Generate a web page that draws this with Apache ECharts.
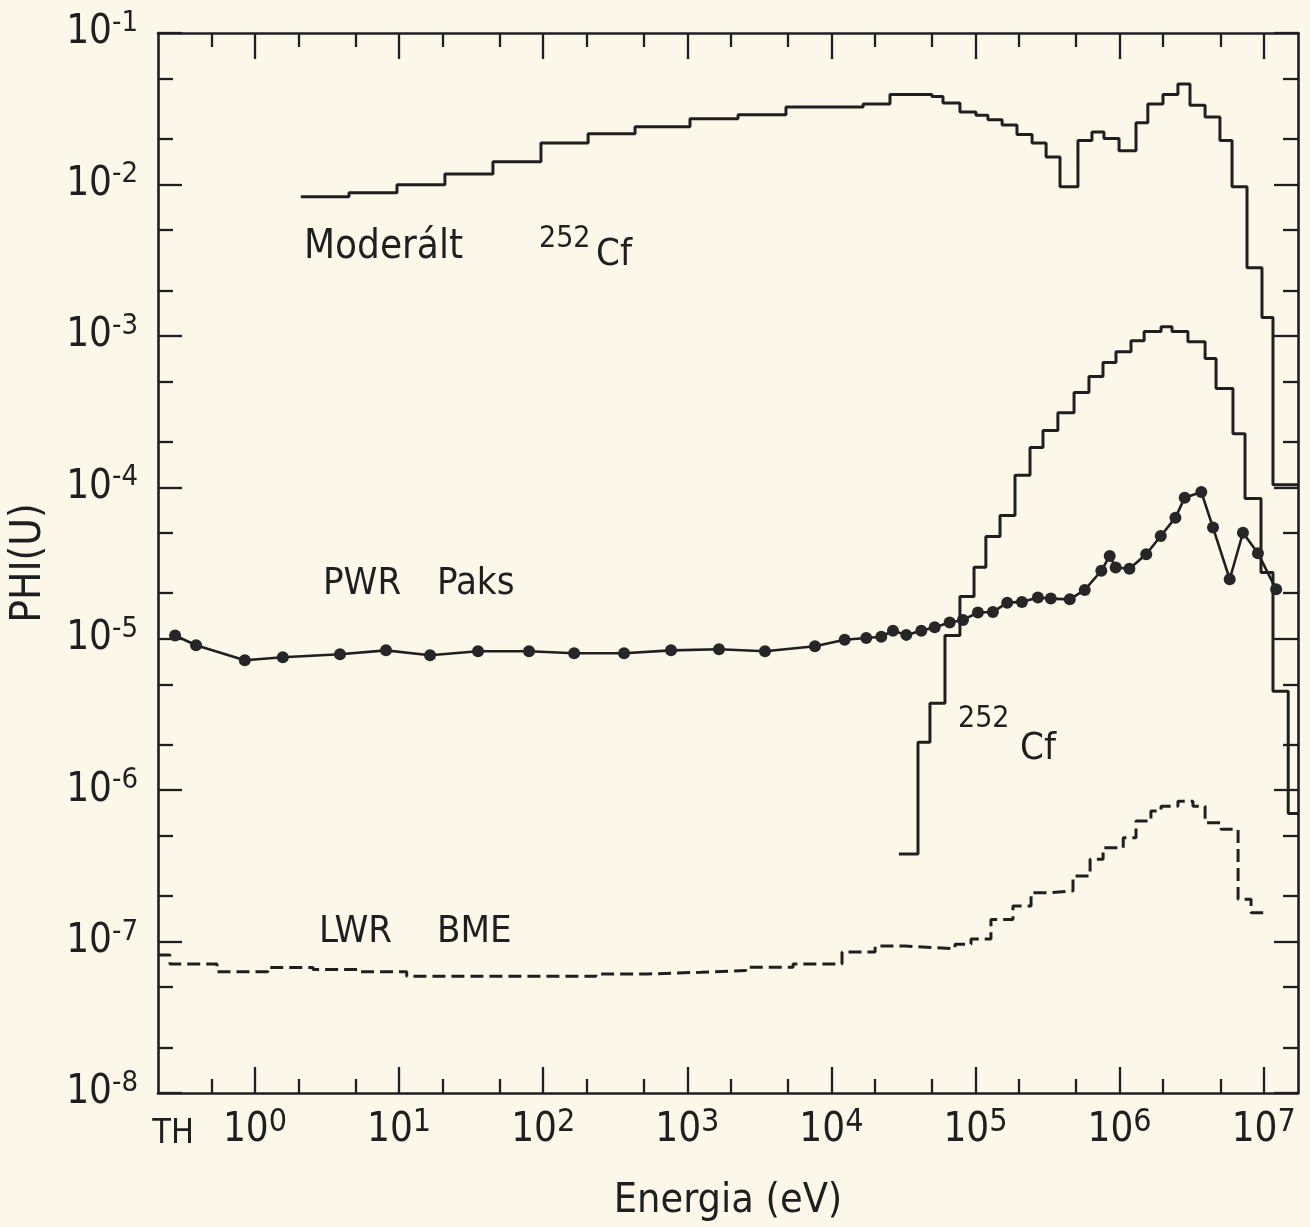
<!DOCTYPE html>
<html>
<head>
<meta charset="utf-8">
<script src="https://cdn.jsdelivr.net/npm/echarts@6/dist/echarts.min.js"></script>
<style>
  html, body { margin: 0; padding: 0; background: #fbf8ea; }
  #chart { width: 1310px; height: 1227px; }
</style>
</head>
<body>
<div id="chart"></div>
<script>
// ---------- data ----------
// Moderált 252Cf: group edges (eV) and flux per group
const modEdges = [2.08, 4.49, 9.67, 20.8, 44.8, 96.5, 205, 434, 1044, 2250, 4840, 16600, 25500, 49900, 59500, 78000,
  1.007e5, 1.22e5, 1.53e5, 1.94e5, 2.47e5, 3.09e5, 3.86e5, 5.14e5, 6.43e5, 7.79e5, 9.91e5, 1.30e6, 1.57e6, 2.00e6,
  2.54e6, 3.08e6, 3.92e6, 4.97e6, 6.03e6, 7.66e6, 9.73e6, 1.16e7, 1.73e7];
const modValues = [8.28e-3, 8.80e-3, 9.94e-3, 1.17e-2, 1.41e-2, 1.88e-2, 2.16e-2, 2.40e-2, 2.71e-2, 2.88e-2, 3.25e-2,
  3.40e-2, 3.93e-2, 3.81e-2, 3.45e-2, 3.01e-2, 2.86e-2, 2.67e-2, 2.47e-2, 2.14e-2, 1.88e-2, 1.52e-2, 9.64e-3, 1.95e-2,
  2.22e-2, 2.01e-2, 1.67e-2, 2.55e-2, 3.40e-2, 3.93e-2, 4.61e-2, 3.33e-2, 2.79e-2, 1.95e-2, 9.64e-3, 2.82e-3, 1.32e-3, 1.04e-4];

// 252Cf (bare)
const cfEdges = [29400, 39900, 48300, 61400, 78000, 97700, 1.18e5, 1.48e5, 1.88e5, 2.39e5, 2.94e5, 3.73e5, 4.83e5,
  6.13e5, 7.67e5, 9.44e5, 1.20e6, 1.48e6, 1.94e6, 2.31e6, 2.98e6, 3.92e6, 4.67e6, 6.12e6, 7.42e6, 9.58e6, 1.16e7, 1.48e7, 1.73e7];
const cfValues = [3.78e-7, 2.07e-6, 3.75e-6, 1.05e-5, 1.90e-5, 2.96e-5, 4.73e-5, 6.51e-5, 1.20e-4, 1.83e-4, 2.37e-4,
  3.11e-4, 4.22e-4, 5.38e-4, 6.66e-4, 7.86e-4, 9.29e-4, 1.07e-3, 1.15e-3, 1.07e-3, 9.16e-4, 7.08e-4, 4.49e-4, 2.26e-4,
  8.44e-5, 2.74e-5, 4.50e-6, 7.0e-7];

// LWR BME (dashed histogram)
const lwrEdges = [0.213, 0.257, 0.545, 1.23, 2.53, 5.35, 11.3, 232, 533, 1245, 2550, 5420, 11850, 20100, 32500, 52400,
  72100, 93100, 1.28e5, 1.82e5, 2.43e5, 3.29e5, 4.75e5, 6.24e5, 7.68e5, 1.06e6, 1.30e6, 1.65e6, 1.94e6, 2.54e6, 3.23e6,
  3.92e6, 5.06e6, 6.64e6, 8.17e6, 1.07e7];
const lwrValues = [8.16e-8, 7.12e-8, 6.33e-8, 6.75e-8, 6.53e-8, 6.33e-8, 5.90e-8, 6.11e-8, 6.27e-8, 6.43e-8, 6.76e-8,
  7.12e-8, 8.53e-8, 9.35e-8, 9.11e-8, 8.98e-8, 9.60e-8, 1.04e-7, 1.40e-7, 1.72e-7, 2.10e-7, 2.16e-7, 2.71e-7, 3.49e-7,
  4.16e-7, 4.84e-7, 6.25e-7, 7.27e-7, 7.84e-7, 8.45e-7, 7.84e-7, 6.08e-7, 5.51e-7, 1.90e-7, 1.55e-7];

// PWR Paks (points joined by line)
const pwrEnergy = [0.279, 0.39, 0.85, 1.56, 3.89, 8.11, 16.4, 35.3, 79.7, 164, 364, 771, 1660, 3460, 7690, 12360,
  17460, 22190, 26740, 33100, 42060, 52100, 66200, 81900, 1.04e5, 1.32e5, 1.66e5, 2.10e5, 2.71e5, 3.33e5, 4.51e5,
  5.73e5, 7.47e5, 8.54e5, 9.39e5, 1.17e6, 1.53e6, 1.93e6, 2.44e6, 2.83e6, 3.69e6, 4.45e6, 5.81e6, 7.18e6, 9.12e6, 1.22e7];
const pwrPhi = [1.05e-5, 9.06e-6, 7.21e-6, 7.54e-6, 7.89e-6, 8.38e-6, 7.77e-6, 8.26e-6, 8.26e-6, 8.02e-6, 8.02e-6,
  8.38e-6, 8.51e-6, 8.26e-6, 8.92e-6, 9.84e-6, 1.01e-5, 1.03e-5, 1.13e-5, 1.06e-5, 1.13e-5, 1.19e-5, 1.28e-5, 1.33e-5,
  1.49e-5, 1.50e-5, 1.73e-5, 1.75e-5, 1.87e-5, 1.84e-5, 1.82e-5, 2.10e-5, 2.81e-5, 3.52e-5, 2.95e-5, 2.90e-5, 3.61e-5,
  4.77e-5, 6.30e-5, 8.54e-5, 9.31e-5, 5.42e-5, 2.47e-5, 5.01e-5, 3.67e-5, 2.12e-5];

// axis ticks / labels
const xMin = 0.2123, xMax = 1.73e7;
const xMajorTicks = [1, 10, 100, 1e3, 1e4, 1e5, 1e6, 1e7];
const xMinorTicks = [0.5, 2, 5, 20, 50, 200, 500, 2e3, 5e3, 2e4, 5e4, 2e5, 5e5, 2e6, 5e6];
const xLabelValues = [0.27, 1, 10, 100, 1e3, 1e4, 1e5, 1e6, 1e7];
const yMajorTicks = [1e-8, 1e-7, 1e-6, 1e-5, 1e-4, 1e-3, 1e-2, 1e-1];
const yMinorTicks = [2e-8, 5e-8, 2e-7, 5e-7, 2e-6, 5e-6, 2e-5, 5e-5, 2e-4, 5e-4, 2e-3, 5e-3, 2e-2, 5e-2];

// ---------- chart ----------
const INK = '#1f1f1f';
const FONT = "'DejaVu Sans Condensed','Liberation Sans Narrow','DejaVu Sans',sans-serif";

function histData(edges, values) {
  return edges.map((e, i) => [e, values[Math.min(i, values.length - 1)]]);
}
function expOf(v) { return Math.round(Math.log10(v)); }

const xLabelRich = {
  b: { fontSize: 40, fontFamily: FONT, color: INK, lineHeight: 48 },
  s: { fontSize: 32, fontFamily: FONT, color: INK, lineHeight: 32, verticalAlign: 'top' },
  t: { fontSize: 34, fontFamily: FONT, color: INK, lineHeight: 48, padding: [6, 0, 0, 0] }
};
const yLabelRich = {
  b: { fontSize: 40, fontFamily: FONT, color: INK, lineHeight: 48 },
  s: { fontSize: 29, fontFamily: FONT, color: INK, lineHeight: 26, verticalAlign: 'top' }
};

function xAxisDef(position, ticks, len, showLine, showLabel) {
  return {
    type: 'log', logBase: 10, min: xMin, max: xMax, position: position, gridIndex: 0,
    axisLine: { show: showLine, lineStyle: { color: INK, width: 2.6 } },
    axisTick: { show: true, inside: true, length: len, customValues: ticks, lineStyle: { color: INK, width: 2.3 } },
    axisLabel: showLabel ? {
      show: true, margin: 14, customValues: xLabelValues, rich: xLabelRich,
      formatter: v => (v < 0.5 ? '{t|TH}' : '{b|10}{s|' + expOf(v) + '}')
    } : { show: false },
    splitLine: { show: false }, minorTick: { show: false }
  };
}
function yAxisDef(position, ticks, len, showLine, showLabel) {
  return {
    type: 'log', logBase: 10, min: 1e-8, max: 1e-1, position: position, gridIndex: 0,
    axisLine: { show: showLine, lineStyle: { color: INK, width: 2.6 } },
    axisTick: { show: true, inside: true, length: len, customValues: ticks, lineStyle: { color: INK, width: 2.3 } },
    axisLabel: showLabel ? {
      show: true, margin: 20, customValues: yMajorTicks, rich: yLabelRich,
      formatter: v => '{b|10}{s|' + expOf(v) + '}'
    } : { show: false },
    splitLine: { show: false }, minorTick: { show: false }
  };
}

const xAxes = [
  xAxisDef('bottom', xMajorTicks, 26, true, true),
  xAxisDef('bottom', xMinorTicks, 14, false, false),
  xAxisDef('top', xMajorTicks, 26, true, false),
  xAxisDef('top', xMinorTicks, 14, false, false)
];
xAxes[0].name = 'Energia (eV)';
xAxes[0].nameLocation = 'middle';
xAxes[0].nameGap = 88;
xAxes[0].nameTextStyle = { fontSize: 41, fontFamily: FONT, color: INK };

const yAxes = [
  yAxisDef('left', yMajorTicks, 24, true, true),
  yAxisDef('left', yMinorTicks, 15, false, false),
  yAxisDef('right', yMajorTicks, 24, true, false),
  yAxisDef('right', yMinorTicks, 15, false, false)
];
yAxes[0].name = 'PHI(U)';
yAxes[0].nameLocation = 'middle';
yAxes[0].nameRotate = 90;
yAxes[0].nameGap = 108;
yAxes[0].nameTextStyle = { fontSize: 42, fontFamily: FONT, color: INK };

const LBL = '38px ' + FONT;
const SUP = '30px ' + FONT;

const option = {
  backgroundColor: '#fbf8ea',
  animation: false,
  grid: { left: 158, right: 12, top: 33, bottom: 133, containLabel: false },
  xAxis: xAxes,
  yAxis: yAxes,
  series: [
    {
      name: 'Moderált 252Cf', type: 'line', step: 'end', showSymbol: false, xAxisIndex: 0, yAxisIndex: 0,
      data: histData(modEdges, modValues), lineStyle: { color: INK, width: 3 }, itemStyle: { color: INK }
    },
    {
      name: '252Cf', type: 'line', step: 'end', showSymbol: false, xAxisIndex: 0, yAxisIndex: 0,
      data: histData(cfEdges, cfValues), lineStyle: { color: INK, width: 3 }, itemStyle: { color: INK }
    },
    {
      name: 'LWR BME', type: 'line', step: 'end', showSymbol: false, xAxisIndex: 0, yAxisIndex: 0,
      data: histData(lwrEdges, lwrValues), lineStyle: { color: INK, width: 3, type: [13, 6] }, itemStyle: { color: INK }
    },
    {
      name: 'PWR Paks', type: 'line', xAxisIndex: 0, yAxisIndex: 0, symbol: 'circle', symbolSize: 12,
      data: pwrEnergy.map((e, i) => [e, pwrPhi[i]]),
      lineStyle: { color: INK, width: 2.6 }, itemStyle: { color: '#262626' }
    }
  ],
  graphic: [
    { type: 'text', left: 304, top: 228, style: { text: 'Moderált', font: '40px ' + FONT, fill: INK } },
    { type: 'text', left: 539, top: 224, style: { text: '252', font: SUP, fill: INK } },
    { type: 'text', left: 596, top: 236, style: { text: 'Cf', font: LBL, fill: INK } },
    { type: 'text', left: 323, top: 565, style: { text: 'PWR', font: LBL, fill: INK } },
    { type: 'text', left: 437, top: 565, style: { text: 'Paks', font: LBL, fill: INK } },
    { type: 'text', left: 319, top: 913, style: { text: 'LWR', font: LBL, fill: INK } },
    { type: 'text', left: 437, top: 913, style: { text: 'BME', font: LBL, fill: INK } },
    { type: 'text', left: 958, top: 704, style: { text: '252', font: SUP, fill: INK } },
    { type: 'text', left: 1020, top: 730, style: { text: 'Cf', font: LBL, fill: INK } }
  ]
};

const chart = echarts.init(document.getElementById('chart'), null, { renderer: 'canvas' });
chart.setOption(option);
</script>
</body>
</html>
